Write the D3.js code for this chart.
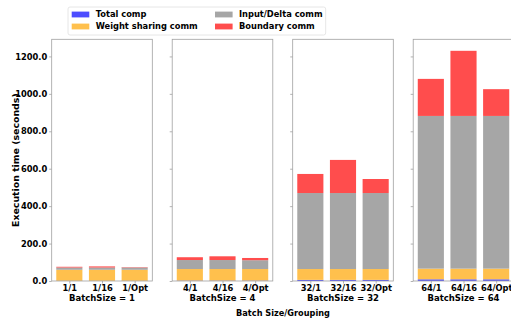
<!DOCTYPE html>
<html>
<head>
<meta charset="utf-8">
<script src="https://cdn.jsdelivr.net/npm/d3@7"></script>
<style>
  html, body { margin: 0; padding: 0; background: #fff; }
  svg { display: block; font-family: "DejaVu Sans", sans-serif; font-weight: bold; }
</style>
</head>
<body>
<svg id="chart" width="511" height="325"></svg>
<script>
// Batch sizes (one panel each) and grouping labels within each panel
const batchSizes = [1, 4, 32, 64];
const groupings = ["1", "16", "Opt"];

// Execution time components (seconds), per panel, per grouping
const totalComp = [
  [1, 1, 1],
  [2, 2, 2],
  [6, 6, 6],
  [9, 9, 9]
];
const weightSharingComm = [
  [59, 59, 59],
  [62, 62, 62],
  [58, 58, 58],
  [57, 57, 57]
];
const inputDeltaComm = [
  [12, 12, 12],
  [48, 48, 47],
  [406, 406, 406],
  [816, 816, 816]
];
const boundaryComm = [
  [4, 6, 2],
  [15, 20, 12],
  [102, 177, 75],
  [198, 348, 143]
];

const yTicks = [0, 200, 400, 600, 800, 1000, 1200];

const seriesNames = ["Total comp", "Weight sharing comm", "Input/Delta comm", "Boundary comm"];
const seriesData = [totalComp, weightSharingComm, inputDeltaComm, boundaryComm];
const colors = ["#4d4dff", "#ffc04d", "#a6a6a6", "#ff4d4d"];

const svg = d3.select("#chart");
const fontSize = 8.3;
const axisColor = "#a0a0a0";

// panel layout
const plotTop = 39.3, plotBottom = 281;
const panelW = 100.6, panelStep = 120.5, firstLeft = 51.7;

// shared y scale: 5% headroom over the tallest stack
const totals = batchSizes.map((_, p) => groupings.map((_, g) =>
  d3.sum(seriesData, s => s[p][g])));
const yMax = d3.max(totals.flat()) * 1.05;
const y = d3.scaleLinear().domain([0, yMax]).range([plotBottom, plotTop]);

batchSizes.forEach((bs, p) => {
  const left = firstLeft + p * panelStep;
  const x = d3.scaleLinear().domain([-0.54, 2.54]).range([left, left + panelW]);
  const barW = x(0.8) - x(0);
  const g = svg.append("g");

  // stacked bars
  groupings.forEach((grp, gi) => {
    let base = 0;
    seriesData.forEach((s, si) => {
      const v = s[p][gi];
      g.append("rect")
        .attr("x", x(gi) - barW / 2)
        .attr("width", barW)
        .attr("y", y(base + v))
        .attr("height", y(base) - y(base + v))
        .attr("fill", colors[si]);
      base += v;
    });
  });

  // y axis (labels only on the first panel)
  const yAxis = d3.axisLeft(y).tickValues(yTicks).tickSize(2.5).tickPadding(2)
    .tickFormat(p === 0 ? d3.format(".1f") : () => "");
  const ya = g.append("g").attr("transform", `translate(${left},0)`).call(yAxis);
  ya.select(".domain").remove();
  ya.selectAll("line").attr("stroke", axisColor).attr("stroke-width", 0.8);
  ya.selectAll("text").attr("fill", "#000").style("font-size", fontSize + "px")
    .style("font-weight", "bold").style("font-family", "DejaVu Sans");

  // x axis with grouping labels
  const xAxis = d3.axisBottom(x).tickValues([0, 1, 2]).tickSize(2.5).tickPadding(1.5)
    .tickFormat(i => `${bs}/${groupings[i]}`);
  const xa = g.append("g").attr("transform", `translate(0,${plotBottom})`).call(xAxis);
  xa.select(".domain").remove();
  xa.selectAll("line").attr("stroke", axisColor).attr("stroke-width", 0.8);
  xa.selectAll("text").attr("fill", "#000").style("font-size", fontSize + "px")
    .style("font-weight", "bold").style("font-family", "DejaVu Sans");

  // panel frame
  g.append("rect")
    .attr("x", left).attr("y", plotTop)
    .attr("width", panelW).attr("height", plotBottom - plotTop)
    .attr("fill", "none").attr("stroke", axisColor).attr("stroke-width", 0.8);

  // panel caption
  g.append("text")
    .attr("x", left + panelW / 2).attr("y", 300.6)
    .attr("text-anchor", "middle")
    .style("font-size", "8.5px")
    .text(`BatchSize = ${bs}`);
});

// y axis title
svg.append("text")
  .attr("transform", `translate(18.5,${(plotTop + plotBottom) / 2}) rotate(-90)`)
  .attr("text-anchor", "middle")
  .style("font-size", "9.4px")
  .text("Execution time (seconds)");

// shared x axis title
svg.append("text")
  .attr("x", 283).attr("y", 316.3)
  .attr("text-anchor", "middle")
  .style("font-size", "8.2px")
  .text("Batch Size/Grouping");

// legend
const legend = svg.append("g");
legend.append("rect")
  .attr("x", 68).attr("y", 7).attr("width", 257.7).attr("height", 28)
  .attr("rx", 2).attr("fill", "#fff").attr("fill-opacity", 0.8)
  .attr("stroke", "#e0e0e0").attr("stroke-width", 0.8);
const legendPos = [
  [71.7, 11.6], [71.7, 23.6], [215, 11.6], [215, 23.6]
];
seriesNames.forEach((name, i) => {
  const [lx, ly] = legendPos[i];
  legend.append("rect")
    .attr("x", lx).attr("y", ly).attr("width", 17.6).attr("height", 5.8)
    .attr("fill", colors[i]);
  legend.append("text")
    .attr("x", lx + 24).attr("y", ly + 5.8)
    .style("font-size", fontSize + "px")
    .text(name);
});
</script>
</body>
</html>
